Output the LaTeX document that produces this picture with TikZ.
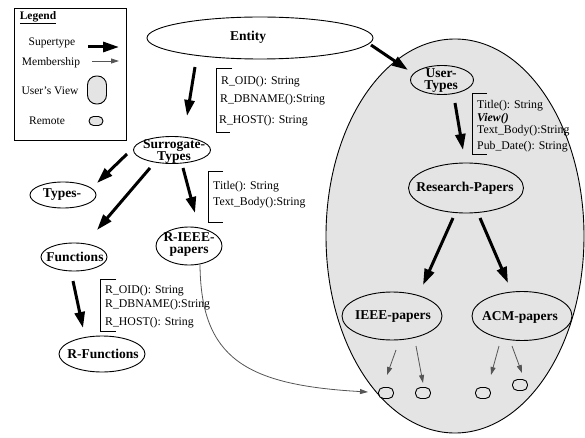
\documentclass[tikz,border=0pt]{standalone}
\usepackage{fontspec}
\setmainfont{Liberation Serif}
\usetikzlibrary{shapes.geometric,arrows.meta}
\definecolor{viewgrey}{HTML}{E4E4E4}
\definecolor{memgrey}{HTML}{555555}
\tikzset{
  cls/.style={draw, ellipse, line width=0.9pt, inner sep=0pt},
  lbl/.style={font=\fontsize{13.5}{12}\selectfont\bfseries, align=center, inner sep=0pt},
  attr/.style={font=\fontsize{11.8}{13}\selectfont, anchor=west, inner sep=0pt},
  legtext/.style={font=\fontsize{11.5}{13}\selectfont, inner sep=0pt},
  supertype/.style={line width=3pt, -{Triangle[length=16pt,width=10pt]}},
  member/.style={draw=memgrey, line width=0.8pt, -{Triangle[length=8pt,width=5pt]}},
  remote/.style={draw, fill=viewgrey, line width=0.9pt, rectangle, rounded corners=5pt,
                 minimum width=15pt, minimum height=11pt, inner sep=0pt},
  bracket/.style={line width=0.9pt},
}
\begin{document}
\begin{tikzpicture}[x=1pt, y=-1pt]
\useasboundingbox (0,0) rectangle (585,438);

% user's view region
\node[cls, fill=viewgrey, minimum width=258pt, minimum height=394pt] (view) at (455,236) {};

% legend
\draw[line width=0.9pt] (14,8) rectangle (126,140);
\node[legtext, font=\fontsize{11.5}{13}\selectfont\bfseries] (leghead) at (38,18) {\underline{Legend}};
\node[legtext] (legsup) at (52,43) {Supertype};
\coordinate (legsupa) at (88,47);
\coordinate (legsupb) at (119,47);
\draw[supertype] (legsupa) -- (legsupb);
\node[legtext] (legmem) at (51,63) {Membership};
\coordinate (legmema) at (92,61);
\coordinate (legmemb) at (119,61);
\draw[member] (legmema) -- (legmemb);
\node[legtext] (legview) at (50,91) {User's View};
\node[draw, fill=viewgrey, line width=0.9pt, rectangle, rounded corners=9pt,
      minimum width=19pt, minimum height=28pt, inner sep=0pt] (legviewsym) at (97,90) {};
\node[legtext] (legrem) at (47,121) {Remote};
\node[remote, minimum width=14pt, minimum height=9pt, rounded corners=4.5pt] (legremsym) at (96,121) {};

% class nodes
\node[cls, minimum width=226pt, minimum height=42pt] (entity) at (260,38) {};
\node[lbl] at (248,37) {Entity};

\node[cls, minimum width=77pt, minimum height=27pt] (surr) at (172,150) {};
\node[lbl] at (174,151) {Surrogate-\\Types};

\node[cls, minimum width=66pt, minimum height=26pt] (types) at (63,195) {};
\node[lbl] at (62,195) {Types-};

\node[cls, minimum width=66pt, minimum height=28pt] (funcs) at (74,257) {};
\node[lbl] at (75,257) {Functions};

\node[cls, minimum width=66pt, minimum height=38pt] (rieee) at (189,246) {};
\node[lbl] at (189,245) {R-IEEE-\\papers};

\node[cls, minimum width=86pt, minimum height=36pt] (rfunc) at (102,354) {};
\node[lbl] at (103,354) {R-Functions};

\node[cls, minimum width=63pt, minimum height=29pt] (usert) at (442,80) {};
\node[lbl] at (441,81) {User-\\Types};

\node[cls, minimum width=115pt, minimum height=50pt] (research) at (466,188) {};
\node[lbl] at (465,188) {Research-Papers};

\node[cls, minimum width=100pt, minimum height=48pt] (ieee) at (392,316) {};
\node[lbl] at (393,317) {IEEE-papers};

\node[cls, minimum width=100pt, minimum height=49pt] (acm) at (522,316) {};
\node[lbl] at (520,317) {ACM-papers};

% remote instances
\node[remote] (r1) at (386,393) {};
\node[remote] (r2) at (423,393) {};
\node[remote] (r3) at (483,393) {};
\node[remote] (r4) at (520,385) {};

% attribute lists
\draw[bracket] (232,68) -- (216,68) -- (216,132) -- (230,132);
\node[attr] at (221,82) {R\_OID(): String};
\node[attr] at (220,100) {R\_DBNAME():String};
\node[attr] at (219,121) {R\_HOST(): String};

\draw[bracket] (223,171) -- (208,171) -- (208,222) -- (223,222);
\node[attr] at (213,187) {Title(): String};
\node[attr] at (213,203) {Text\_Body():String};

\draw[bracket] (116,279) -- (100,279) -- (100,331) -- (116,331);
\node[attr] at (105,291) {R\_OID(): String};
\node[attr] at (105,305) {R\_DBNAME():String};
\node[attr] at (105,323) {R\_HOST(): String};

\draw[bracket] (487,93) -- (472,93) -- (472,154) -- (487,154);
\node[attr] at (477,106) {Title(): String};
\node[attr] at (477,119) {\textbf{\textit{View()}}};
\node[attr] at (477,131) {Text\_Body():String};
\node[attr] at (477,147) {Pub\_Date(): String};

% supertype links
\draw[supertype] ([shift={(-65,29)}]entity.center) -- ([shift={(15,-34)}]surr.center);
\draw[supertype] ([shift={(111,7)}]entity.center) -- ([shift={(-34,-10)}]usert.center);
\draw[supertype] ([shift={(13,23)}]usert.center) -- ([shift={(-3,-38)}]research.center);
\draw[supertype] ([shift={(-13,30)}]research.center) -- ([shift={(31,-31)}]ieee.center);
\draw[supertype] ([shift={(14,30)}]research.center) -- ([shift={(-14,-33)}]acm.center);
\draw[supertype] ([shift={(-45,4)}]surr.center) -- ([shift={(34,-12)}]types.center);
\draw[supertype] ([shift={(-22,18)}]surr.center) -- ([shift={(23,-27)}]funcs.center);
\draw[supertype] ([shift={(11,18)}]surr.center) -- ([shift={(6,-33)}]rieee.center);
\draw[supertype] ([shift={(-1,24)}]funcs.center) -- ([shift={(-19,-26)}]rfunc.center);

% membership links
\draw[member] ([shift={(4,34)}]ieee.center) -- ([shift={(1,-18)}]r1.center);
\draw[member] ([shift={(24,30)}]ieee.center) -- ([shift={(0,-10)}]r2.center);
\draw[member] ([shift={(-23,30)}]acm.center) -- ([shift={(8,-18)}]r3.center);
\draw[member] ([shift={(-10,30)}]acm.center) -- ([shift={(2,-12)}]r4.center);
\draw[member] ([shift={(11,19)}]rieee.center) .. controls (201,358) and (245,385) .. ([shift={(-18,-1)}]r1.center);
\end{tikzpicture}
\end{document}
